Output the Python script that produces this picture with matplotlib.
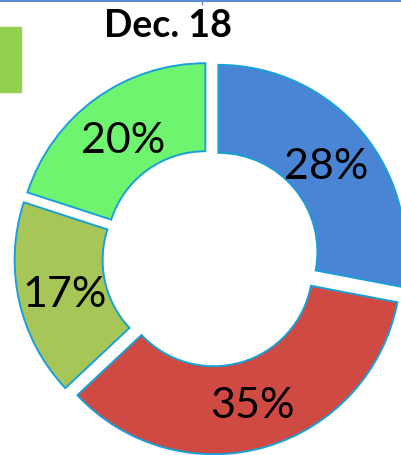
import matplotlib
matplotlib.use("Agg")
import matplotlib.pyplot as plt
from matplotlib.patches import Rectangle

# Anteile Dezember 18
labels = ["Blau", "Rot", "Oliv", "Gruen"]
werte = [28, 35, 17, 20]
farben = ["#4a84d4", "#d04a44", "#a6c657", "#6ff46f"]
titel = "Dec. 18"

W, H = 401, 456
fig = plt.figure(figsize=(W / 100, H / 100), dpi=100)
ax = fig.add_axes([0, 0, 1, 1])

R = 187
# explode ist hier in Pixeln (Datenkoordinaten)
wedges, texts, autotexts = ax.pie(
    werte,
    colors=farben,
    startangle=90,
    counterclock=False,
    center=(211, H - 259),
    radius=R,
    explode=[9.6] * 4,
    autopct="%d%%",
    pctdistance=0.75,
    wedgeprops=dict(width=88, edgecolor="#1aa0d8", linewidth=1.4),
    textprops=dict(fontsize=31, family=["Lato", "DejaVu Sans"], color="black",
                   verticalalignment="center_baseline"),
    frame=True,
)
ax.set_xlim(0, W)
ax.set_ylim(0, H)
ax.set_aspect("equal")
ax.axis("off")

fig.text(168 / W, 1 - 26 / H, titel, ha="center", va="center",
         fontsize=27, fontweight="bold", family=["Lato", "DejaVu Sans"])

# Reste vom Legenden-Kaestchen und Rahmenlinie oben
fig.patches.append(Rectangle((0, 1 - 93 / H), 21 / W, 65 / H,
                             transform=fig.transFigure, color="#92d050"))
fig.add_artist(plt.Line2D([0, 1], [1 - 2 / H] * 2, transform=fig.transFigure,
                          color="#5b8bd0", linewidth=1.5))
fig.add_artist(plt.Line2D([202 / W] * 2, [1, 1 - 5 / H], transform=fig.transFigure,
                          color="#5b8bd0", linewidth=1.0))

fig.savefig("out.png", dpi=100)
